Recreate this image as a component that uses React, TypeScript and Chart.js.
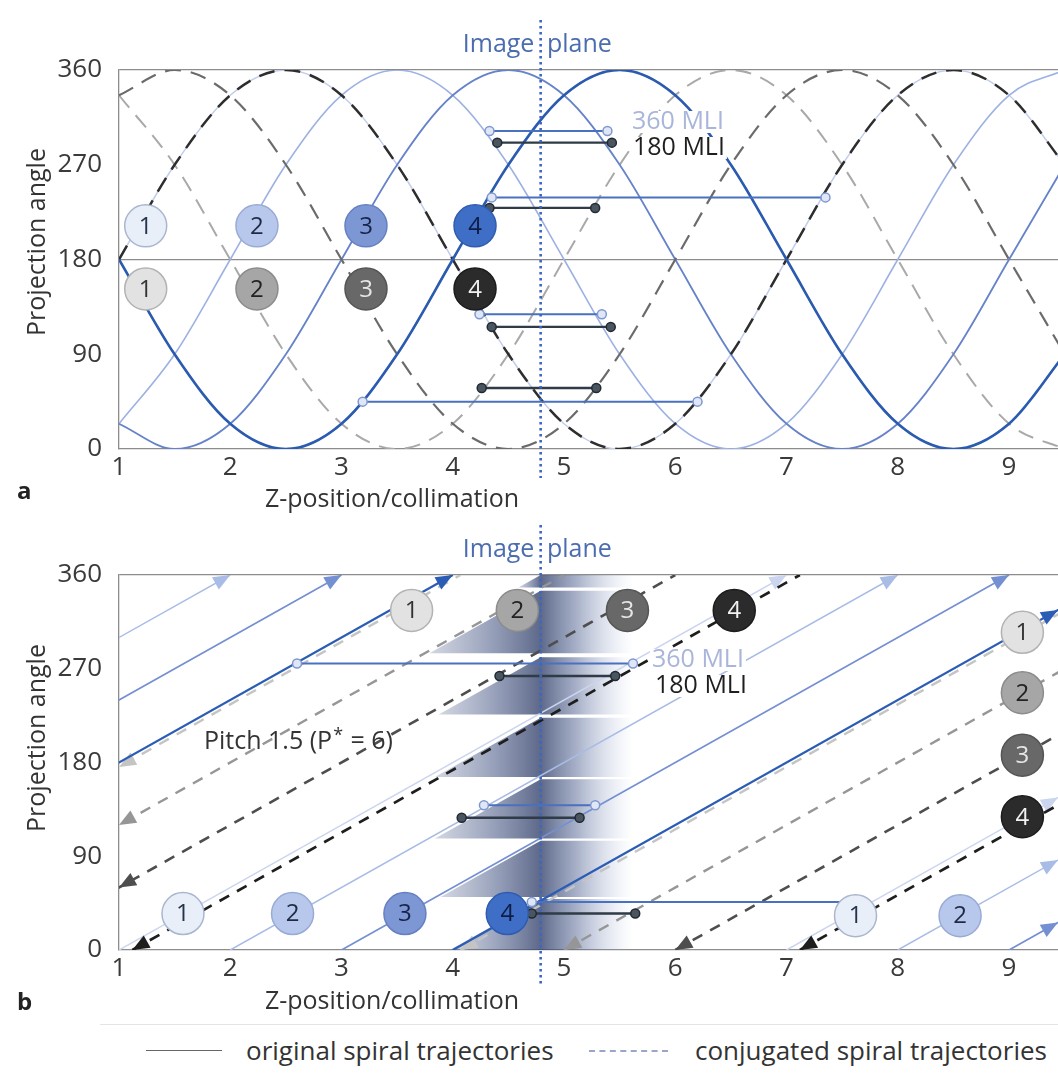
import React, { useEffect, useRef } from "react";
import { Chart, registerables } from "chart.js";

Chart.register(...registerables);

const FONT = '"Open Sans", "DejaVu Sans", sans-serif';

// ---------------- shared axis data ----------------
const X_MIN = 1;
const X_MAX = 9.44;
const X_TICKS = [1, 2, 3, 4, 5, 6, 7, 8, 9];
const Y_TICKS = [0, 90, 180, 270, 360];
const IMAGE_PLANE_Z = 4.79;

// ---------------- panel a ----------------
const A_Z = [1, 1.5, 2, 2.5, 3, 3.5, 4, 4.5, 5, 5.5, 6, 6.5, 7, 7.5, 8, 8.5, 9, 9.5];
const A_ORIG_1 = [180, 270, 336, 360, 336, 270, 180, 90, 24, 0, 24, 90, 180, 270, 336, 360, 336, 270];
const A_ORIG_2 = [24, 90, 180, 270, 336, 360, 336, 270, 180, 90, 24, 0, 24, 90, 180, 270, 336, 360];
const A_ORIG_3 = [24, 0, 24, 90, 180, 270, 336, 360, 336, 270, 180, 90, 24, 0, 24, 90, 180, 270];
const A_ORIG_4 = [180, 90, 24, 0, 24, 90, 180, 270, 336, 360, 336, 270, 180, 90, 24, 0, 24, 90];
const A_CONJ_1 = [180, 90, 24, 0, 24, 90, 180, 270, 336, 360, 336, 270, 180, 90, 24, 0, 24, 90];
const A_CONJ_2 = [336, 270, 180, 90, 24, 0, 24, 90, 180, 270, 336, 360, 336, 270, 180, 90, 24, 0];
const A_CONJ_3 = [336, 360, 336, 270, 180, 90, 24, 0, 24, 90, 180, 270, 336, 360, 336, 270, 180, 90];
const A_CONJ_4 = [180, 270, 336, 360, 336, 270, 180, 90, 24, 0, 24, 90, 180, 270, 336, 360, 336, 270];

const A_MLI360_Y = [302, 239, 128, 45];
const A_MLI360_Z0 = [4.33, 4.35, 4.24, 3.19];
const A_MLI360_Z1 = [5.39, 7.35, 5.34, 6.2];
const A_MLI180_Y = [291, 229, 116, 58];
const A_MLI180_Z0 = [4.4, 4.33, 4.35, 4.26];
const A_MLI180_Z1 = [5.43, 5.28, 5.42, 5.29];

const A_BADGE_Z = [1.24, 2.24, 3.22, 4.2];
const A_ORIG_BADGE_Y = [212, 212, 212, 212];
const A_CONJ_BADGE_Y = [152, 152, 152, 152];
const A_BADGE_TEXT = ["1", "2", "3", "4"];

// ---------------- panel b ----------------
type Seg = [number, number, number, number];
const B_ORIG_1: Seg[] = [[1, 0, 7, 360], [7, 0, 13, 360]];
const B_ORIG_2: Seg[] = [[-4, 0, 2, 360], [2, 0, 8, 360], [8, 0, 14, 360]];
const B_ORIG_3: Seg[] = [[-3, 0, 3, 360], [3, 0, 9, 360], [9, 0, 15, 360]];
const B_ORIG_4: Seg[] = [[-2, 0, 4, 360], [4, 0, 10, 360]];
const B_CONJ_1: Seg[] = [[-1.93, 0, 4.07, 360], [4.07, 0, 10.07, 360]];
const B_CONJ_2: Seg[] = [[-1, 0, 5, 360], [5, 0, 11, 360]];
const B_CONJ_3: Seg[] = [[0, 0, 6, 360], [6, 0, 12, 360]];
const B_CONJ_4: Seg[] = [[1.12, 0, 7.12, 360], [7.12, 0, 13.12, 360]];

const B_MLI360_Y = [275, 139, 46];
const B_MLI360_Z0 = [2.6, 4.28, 4.71];
const B_MLI360_Z1 = [5.62, 5.28, 7.68];
const B_MLI180_Y = [263, 127, 35];
const B_MLI180_Z0 = [4.42, 4.08, 4.71];
const B_MLI180_Z1 = [5.46, 5.14, 5.64];

const B_ORIG_BADGE_Z = [1.575, 2.56, 3.57, 4.49, 7.62, 8.56];
const B_ORIG_BADGE_Y = [35, 35, 35, 35, 33, 33];
const B_ORIG_BADGE_TEXT = ["1", "2", "3", "4", "1", "2"];
const B_CONJ_BADGE_Z = [3.63, 4.58, 5.57, 6.53, 9.12, 9.12, 9.12, 9.12];
const B_CONJ_BADGE_Y = [326, 326, 326, 326, 305, 247, 187, 128];
const B_CONJ_BADGE_TEXT = ["1", "2", "3", "4", "1", "2", "3", "4"];

const B_SLOPE = 60; // degrees per collimation (pitch 1.5, P* = 6)
const B_SHADE_LOW = [0, 51, 107, 166, 226, 285, 348];
const B_SHADE_HIGH = [49, 105, 164, 223, 281, 345, 360];
const B_SHADE_RIGHT_Z = 5.62;

// ---------------- styles ----------------
const ORIG_COLORS_A = ["#c2cdec", "#9db1e2", "#6683c9", "#2a5bb0"];
const ORIG_WIDTHS_A = [1.5, 1.6, 1.8, 2.6];
const CONJ_COLORS_A = ["#c6c6c6", "#a9a9a9", "#6b6b6b", "#2e2e2e"];
const CONJ_WIDTHS_A = [2, 2, 2.2, 2.5];
const ORIG_COLORS_B = ["#cbd5ef", "#a9bce6", "#7590d2", "#2c5db5"];
const ORIG_WIDTHS_B = [1.5, 1.5, 1.7, 2.3];
const CONJ_COLORS_B = ["#c4c4c4", "#969696", "#4e4e4e", "#1e1e1e"];
const CONJ_WIDTHS_B = [2.4, 2.4, 2.6, 2.7];

const ORIG_FILL = ["#e9eff9", "#b8c8ec", "#7d96d4", "#3f6ec6"];
const ORIG_STROKE = ["#aab6cf", "#98abd6", "#6580c2", "#2f5cb0"];
const ORIG_TEXT = ["#25324a", "#1e2a44", "#17244a", "#0f1d45"];
const CONJ_FILL = ["#e2e2e2", "#a6a6a6", "#686868", "#2b2b2b"];
const CONJ_STROKE = ["#b3b3b3", "#8c8c8c", "#555555", "#1c1c1c"];
const CONJ_TEXT = ["#333333", "#222222", "#e6e6e6", "#f2f2f2"];

const AXIS_COLOR = "#8c8c8c";
const TICK_COLOR = "#3a3a3a";

// ---------------- helpers ----------------
function curvePoints(ys: number[]) {
  return A_Z.map((z, i) => ({ x: z, y: ys[i] }));
}

function segPoints(segs: Seg[]) {
  const pts: { x: number; y: number | null }[] = [];
  segs.forEach((s, i) => {
    if (i > 0) pts.push({ x: s[0], y: null });
    pts.push({ x: s[0], y: s[1] }, { x: s[2], y: s[3] });
  });
  return pts;
}

function mliPoints(z0: number[], z1: number[], ys: number[]) {
  const pts: { x: number; y: number | null }[] = [];
  ys.forEach((v, i) => {
    if (i > 0) pts.push({ x: z0[i], y: null });
    pts.push({ x: z0[i], y: v }, { x: z1[i], y: v });
  });
  return pts;
}

function badgeSet(zs: number[], ys: number[], texts: string[], conj: boolean) {
  const idx = texts.map((t) => Number(t) - 1);
  return {
    data: zs.map((z, i) => ({ x: z, y: ys[i] })),
    showLine: false,
    pointStyle: "circle",
    pointRadius: 21,
    pointBackgroundColor: idx.map((k) => (conj ? CONJ_FILL[k] : ORIG_FILL[k])),
    pointBorderColor: idx.map((k) => (conj ? CONJ_STROKE[k] : ORIG_STROKE[k])),
    pointBorderWidth: 1.5,
    order: 0,
    badgeText: texts,
    badgeTextColor: idx.map((k) => (conj ? CONJ_TEXT[k] : ORIG_TEXT[k])),
  } as any;
}

function mliSets(z360: number[][], y360: number[], z180: number[][], y180: number[]) {
  return [
    {
      data: mliPoints(z360[0], z360[1], y360),
      borderColor: "#4a70c0",
      borderWidth: 2,
      pointRadius: 4.5,
      pointBackgroundColor: "#dfe6f6",
      pointBorderColor: "#7f97cf",
      pointBorderWidth: 1.5,
      order: 2,
    },
    {
      data: mliPoints(z180[0], z180[1], y180),
      borderColor: "#2f3b46",
      borderWidth: 2.4,
      pointRadius: 4.5,
      pointBackgroundColor: "#4a5560",
      pointBorderColor: "#1f2a33",
      pointBorderWidth: 1.5,
      order: 1,
    },
  ];
}

function drawArrow(ctx: CanvasRenderingContext2D, fx: number, fy: number, tx: number, ty: number, color: string) {
  const dx = tx - fx;
  const dy = ty - fy;
  const len = Math.hypot(dx, dy) || 1;
  const ux = dx / len;
  const uy = dy / len;
  const L = 17;
  const W = 7;
  const bx = tx - ux * L;
  const by = ty - uy * L;
  ctx.beginPath();
  ctx.moveTo(tx, ty);
  ctx.lineTo(bx - uy * W, by + ux * W);
  ctx.lineTo(bx + uy * W, by - ux * W);
  ctx.closePath();
  ctx.fillStyle = color;
  ctx.fill();
}

type Deco = {
  letter: string;
  letterY: number;
  yTitleY: number;
  xTitleX: number;
  xTitleY: number;
  planeLabelY: number;
  planeTop: number;
  planeBottom: number;
  labels: { text: string; x: number; y: number; color: string }[];
  pitch?: { x: number; y: number };
  shade?: boolean;
};

function makeDeco(cfg: Deco) {
  return {
    id: "deco_" + cfg.letter,
    beforeDatasetsDraw(chart: any) {
      if (!cfg.shade) return;
      const { ctx, chartArea: ca, scales } = chart;
      const x = scales.x;
      const y = scales.y;
      ctx.save();
      ctx.beginPath();
      ctx.rect(ca.left, ca.top, ca.right - ca.left, ca.bottom - ca.top);
      ctx.clip();
      const xp = x.getPixelForValue(IMAGE_PLANE_Z);
      const xr = x.getPixelForValue(B_SHADE_RIGHT_Z);
      B_SHADE_LOW.forEach((lo, i) => {
        const hi = B_SHADE_HIGH[i];
        const yTop = y.getPixelForValue(hi);
        const yBot = y.getPixelForValue(lo);
        const xlb = x.getPixelForValue(IMAGE_PLANE_Z - (hi - lo) / B_SLOPE);
        const g = ctx.createLinearGradient(xlb, 0, xr, 0);
        const f = (xp - xlb) / (xr - xlb);
        g.addColorStop(0, "rgba(95,110,150,0.28)");
        g.addColorStop(f * 0.5, "rgba(78,94,138,0.55)");
        g.addColorStop(f, "rgba(58,72,112,0.82)");
        g.addColorStop(f + (1 - f) * 0.4, "rgba(84,102,148,0.5)");
        g.addColorStop(1, "rgba(170,185,220,0)");
        ctx.fillStyle = g;
        ctx.beginPath();
        ctx.moveTo(xlb, yBot);
        ctx.lineTo(xp, yTop);
        ctx.lineTo(xr, yTop);
        ctx.lineTo(xr, yBot);
        ctx.closePath();
        ctx.fill();
      });
      ctx.restore();
    },
    afterDatasetDraw(chart: any, args: any) {
      const ds = chart.data.datasets[args.index];
      if (!ds.arrowSegs) return;
      const { ctx, scales } = chart;
      const x = scales.x;
      const y = scales.y;
      ctx.save();
      (ds.arrowSegs as Seg[]).forEach((s) => {
        const [x0, y0, x1, y1] = s;
        if (x1 <= X_MIN || x0 >= X_MAX) return;
        const t = (v: number) => y0 + ((y1 - y0) * (v - x0)) / (x1 - x0);
        const ax = Math.max(x0, X_MIN);
        const bx = Math.min(x1, X_MAX);
        const pa = [x.getPixelForValue(ax), y.getPixelForValue(t(ax))];
        const pb = [x.getPixelForValue(bx), y.getPixelForValue(t(bx))];
        if (ds.arrowAt === "end") drawArrow(ctx, pa[0], pa[1], pb[0], pb[1], ds.borderColor);
        else drawArrow(ctx, pb[0], pb[1], pa[0], pa[1], ds.borderColor);
      });
      ctx.restore();
    },
    afterDatasetsDraw(chart: any) {
      const { ctx } = chart;
      ctx.save();
      ctx.textAlign = "center";
      ctx.textBaseline = "middle";
      ctx.font = `24px ${FONT}`;
      chart.data.datasets.forEach((ds: any, i: number) => {
        if (!ds.badgeText) return;
        const meta = chart.getDatasetMeta(i);
        meta.data.forEach((el: any, j: number) => {
          ctx.fillStyle = ds.badgeTextColor[j];
          ctx.fillText(ds.badgeText[j], el.x, el.y + 1);
        });
      });
      // MLI labels
      ctx.textAlign = "left";
      ctx.font = `25px ${FONT}`;
      cfg.labels.forEach((l) => {
        const w = ctx.measureText(l.text).width;
        ctx.fillStyle = "#ffffff";
        ctx.fillRect(l.x - 2, l.y - 11, w + 4, 22);
      });
      cfg.labels.forEach((l) => {
        ctx.fillStyle = l.color;
        ctx.fillText(l.text, l.x, l.y);
      });
      if (cfg.pitch) {
        const p = cfg.pitch;
        ctx.fillStyle = "#333333";
        ctx.font = `25px ${FONT}`;
        const s1 = "Pitch 1.5 (P";
        ctx.fillText(s1, p.x, p.y);
        let cx = p.x + ctx.measureText(s1).width;
        ctx.font = `18px ${FONT}`;
        ctx.fillText("*", cx + 1, p.y - 6);
        cx += ctx.measureText("*").width + 2;
        ctx.font = `25px ${FONT}`;
        ctx.fillText(" = 6)", cx, p.y);
      }
      ctx.restore();
    },
    afterDraw(chart: any) {
      const { ctx, scales } = chart;
      const x = scales.x;
      const xp = x.getPixelForValue(IMAGE_PLANE_Z);
      ctx.save();
      // image plane
      ctx.strokeStyle = "#3d66c2";
      ctx.lineWidth = 2.6;
      ctx.setLineDash([2.5, 3.5]);
      ctx.beginPath();
      ctx.moveTo(xp, cfg.planeTop);
      ctx.lineTo(xp, cfg.planeBottom);
      ctx.stroke();
      ctx.setLineDash([]);
      ctx.font = `25px ${FONT}`;
      ctx.textBaseline = "middle";
      const w1 = ctx.measureText("Image").width;
      const wsp = ctx.measureText(" ").width;
      ctx.fillStyle = "#4b6db0";
      ctx.textAlign = "left";
      ctx.fillText("Image", xp - w1 - wsp / 2 - 3, cfg.planeLabelY);
      ctx.fillText("plane", xp + wsp / 2 + 3, cfg.planeLabelY);
      // axis titles
      ctx.fillStyle = "#333333";
      ctx.textAlign = "center";
      ctx.fillText("Z-position/collimation", cfg.xTitleX, cfg.xTitleY);
      ctx.save();
      ctx.translate(38, cfg.yTitleY);
      ctx.rotate(-Math.PI / 2);
      ctx.fillText("Projection angle", 0, 0);
      ctx.restore();
      // panel letter
      ctx.font = `bold 24px ${FONT}`;
      ctx.textAlign = "left";
      ctx.fillStyle = "#222222";
      ctx.fillText(cfg.letter, 17, cfg.letterY);
      ctx.restore();
    },
  };
}

function baseOptions(mid180: boolean, padBottom: number) {
  const tickFont = { family: FONT, size: 26 };
  return {
    responsive: false,
    animation: false,
    events: [],
    layout: { autoPadding: false, padding: { top: 70, left: 0, right: 0, bottom: padBottom } },
    plugins: { legend: { display: false }, tooltip: { enabled: false }, title: { display: false } },
    scales: {
      x: {
        type: "linear",
        min: X_MIN,
        max: X_MAX,
        afterBuildTicks: (s: any) => {
          s.ticks = X_TICKS.map((v) => ({ value: v }));
        },
        afterFit: (s: any) => {
          s.height = 40;
          s.paddingLeft = 0;
          s.paddingRight = 0;
        },
        grid: { display: false, drawTicks: false },
        border: { display: true, color: AXIS_COLOR, width: 1.3 },
        ticks: { padding: 3, color: TICK_COLOR, font: tickFont, maxRotation: 0, autoSkip: false },
      },
      y: {
        type: "linear",
        min: 0,
        max: 360,
        afterBuildTicks: (s: any) => {
          s.ticks = Y_TICKS.map((v) => ({ value: v }));
        },
        afterFit: (s: any) => {
          s.width = 119;
          s.paddingTop = 0;
          s.paddingBottom = 0;
        },
        grid: {
          drawTicks: false,
          lineWidth: 1.2,
          color: (c: any) => {
            const v = c.tick ? c.tick.value : -1;
            return v === 360 || (mid180 && v === 180) ? AXIS_COLOR : "rgba(0,0,0,0)";
          },
        },
        border: { display: true, color: AXIS_COLOR, width: 1.3 },
        ticks: { padding: 17, color: TICK_COLOR, font: tickFont, autoSkip: false },
      },
    },
  } as any;
}

function buildA(canvas: HTMLCanvasElement) {
  const orig = [A_ORIG_1, A_ORIG_2, A_ORIG_3, A_ORIG_4];
  const conj = [A_CONJ_1, A_CONJ_2, A_CONJ_3, A_CONJ_4];
  const origOrder = [16, 15, 13, 10];
  const conjOrder = [17, 14, 12, 11];
  const datasets: any[] = [];
  orig.forEach((vals, i) =>
    datasets.push({
      data: curvePoints(vals),
      borderColor: ORIG_COLORS_A[i],
      borderWidth: ORIG_WIDTHS_A[i],
      pointRadius: 0,
      cubicInterpolationMode: "monotone",
      order: origOrder[i],
    })
  );
  conj.forEach((vals, i) =>
    datasets.push({
      data: curvePoints(vals),
      borderColor: CONJ_COLORS_A[i],
      borderWidth: CONJ_WIDTHS_A[i],
      borderDash: [16, 10],
      pointRadius: 0,
      cubicInterpolationMode: "monotone",
      order: conjOrder[i],
    })
  );
  datasets.push(...mliSets([A_MLI360_Z0, A_MLI360_Z1], A_MLI360_Y, [A_MLI180_Z0, A_MLI180_Z1], A_MLI180_Y));
  datasets.push(badgeSet(A_BADGE_Z, A_ORIG_BADGE_Y, A_BADGE_TEXT, false));
  datasets.push(badgeSet(A_BADGE_Z, A_CONJ_BADGE_Y, A_BADGE_TEXT, true));
  const deco = makeDeco({
    letter: "a",
    letterY: 492,
    yTitleY: 242,
    xTitleX: 392,
    xTitleY: 500,
    planeLabelY: 45,
    planeTop: 20,
    planeBottom: 478,
    labels: [
      { text: "360 MLI", x: 632, y: 122, color: "#a9b5d9" },
      { text: "180 MLI", x: 633, y: 148, color: "#1f1f1f" },
    ],
  });
  return new Chart(canvas, {
    type: "line",
    data: { datasets },
    options: baseOptions(true, 26),
    plugins: [deco],
  } as any);
}

function buildB(canvas: HTMLCanvasElement) {
  const orig = [B_ORIG_1, B_ORIG_2, B_ORIG_3, B_ORIG_4];
  const conj = [B_CONJ_1, B_CONJ_2, B_CONJ_3, B_CONJ_4];
  const origOrder = [16, 15, 13, 10];
  const conjOrder = [17, 14, 12, 11];
  const datasets: any[] = [];
  orig.forEach((segs, i) =>
    datasets.push({
      data: segPoints(segs),
      borderColor: ORIG_COLORS_B[i],
      borderWidth: ORIG_WIDTHS_B[i],
      pointRadius: 0,
      order: origOrder[i],
      arrowSegs: segs,
      arrowAt: "end",
    })
  );
  conj.forEach((segs, i) =>
    datasets.push({
      data: segPoints(segs),
      borderColor: CONJ_COLORS_B[i],
      borderWidth: CONJ_WIDTHS_B[i],
      borderDash: [11, 9],
      pointRadius: 0,
      order: conjOrder[i],
      arrowSegs: segs,
      arrowAt: "start",
    })
  );
  datasets.push(...mliSets([B_MLI360_Z0, B_MLI360_Z1], B_MLI360_Y, [B_MLI180_Z0, B_MLI180_Z1], B_MLI180_Y));
  datasets.push(badgeSet(B_ORIG_BADGE_Z, B_ORIG_BADGE_Y, B_ORIG_BADGE_TEXT, false));
  datasets.push(badgeSet(B_CONJ_BADGE_Z, B_CONJ_BADGE_Y, B_CONJ_BADGE_TEXT, true));
  const deco = makeDeco({
    letter: "b",
    letterY: 498,
    yTitleY: 233,
    xTitleX: 392,
    xTitleY: 497,
    planeLabelY: 45,
    planeTop: 20,
    planeBottom: 480,
    labels: [
      { text: "360 MLI", x: 652, y: 155, color: "#a9b5d9" },
      { text: "180 MLI", x: 655, y: 181, color: "#1f1f1f" },
    ],
    pitch: { x: 204, y: 237 },
    shade: true,
  });
  return new Chart(canvas, {
    type: "line",
    data: { datasets },
    options: baseOptions(false, 30),
    plugins: [deco],
  } as any);
}

export default function App() {
  const refA = useRef<HTMLCanvasElement>(null);
  const refB = useRef<HTMLCanvasElement>(null);
  useEffect(() => {
    const a = refA.current ? buildA(refA.current) : null;
    const b = refB.current ? buildB(refB.current) : null;
    return () => {
      a?.destroy();
      b?.destroy();
    };
  }, []);
  const legendText: React.CSSProperties = {
    position: "absolute",
    top: 1050,
    transform: "translateY(-50%)",
    font: `26px ${FONT}`,
    lineHeight: "1",
    color: "#333333",
    whiteSpace: "nowrap",
  };
  return (
    <div style={{ position: "absolute", left: 0, top: 0, width: 1058, height: 1076, background: "#ffffff", overflow: "hidden" }}>
      <canvas ref={refA} width={1058} height={515} style={{ position: "absolute", left: 0, top: 0 }} />
      <canvas ref={refB} width={1058} height={515} style={{ position: "absolute", left: 0, top: 505 }} />
      <div style={{ position: "absolute", left: 100, top: 1024, width: 958, borderTop: "1px solid #e4e4e4" }} />
      <div style={{ position: "absolute", left: 146, top: 1050, width: 76, borderTop: "1.5px solid #666666" }} />
      <span style={{ ...legendText, left: 246 }}>original spiral trajectories</span>
      <div style={{ position: "absolute", left: 589, top: 1050, width: 79, borderTop: "2px dashed #9aa6c8" }} />
      <span style={{ ...legendText, left: 695 }}>conjugated spiral trajectories</span>
    </div>
  );
}
